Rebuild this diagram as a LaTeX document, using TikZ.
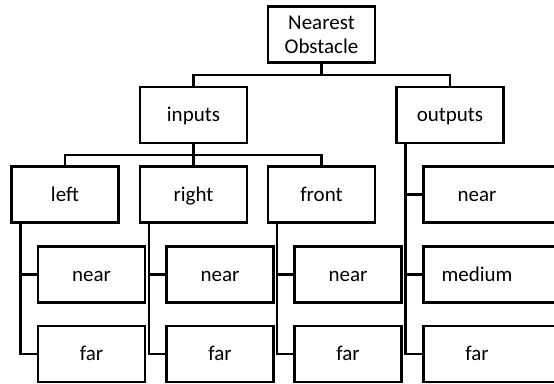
\documentclass[tikz,border=0pt]{standalone}
\usepackage{fontspec}
\setmainfont{Carlito}

\begin{document}
\begin{tikzpicture}[x=1pt,y=-1pt,
  box/.style={draw, line width=2.4pt, minimum width=107pt, minimum height=56pt,
    inner sep=0pt, align=center, font=\fontsize{21}{24}\selectfont},
  word/.style={box, text height=18pt, text depth=5pt},
  link/.style={line width=2.4pt}]
\useasboundingbox (0,0) rectangle (554,383);
% top of the tree
\node[box] (root) at (321.5,34.5) {Nearest\\Obstacle};
\node[word] (inputs) at (193.5,115) {inputs};
\node[word] (outputs) at (450,115) {outputs};
\draw[link] (root.south) -- ++(0,11) -| (inputs.north);
\draw[link] (root.south) -- ++(0,11) -| (outputs.north);
% the three sensors, each with near / far
\foreach \name/\x in {left/65, right/193.5, front/321.5}
{
\node[word] (\name) at (\x,194.5) {\name};
\draw[link] (inputs.south) -- ++(0,11) -| (\name.north);
\node[word] (\name-near) at (\x+26.5,274.5) {near};
\node[word] (\name-far) at (\x+26.5,354) {far};
\draw[link] ([xshift=10pt]\name.south west) |- (\name-far.west);
\draw[link] ([xshift=10pt]\name.south west) |- (\name-near.west);
}
% output classes, boxes run off the right edge
\foreach \name/\y in {near/194.5, medium/274.5, far/354}
{
\node[word, draw=none, outer sep=0pt] (out-\name) at (477,\y) {\name};
\draw[link] (out-\name.north west) ++(140,0) -| (out-\name.south west) -- ++(140,0);
\draw[link] ([xshift=10pt]outputs.south west) |- (out-\name.west);
}
\end{tikzpicture}
\end{document}
